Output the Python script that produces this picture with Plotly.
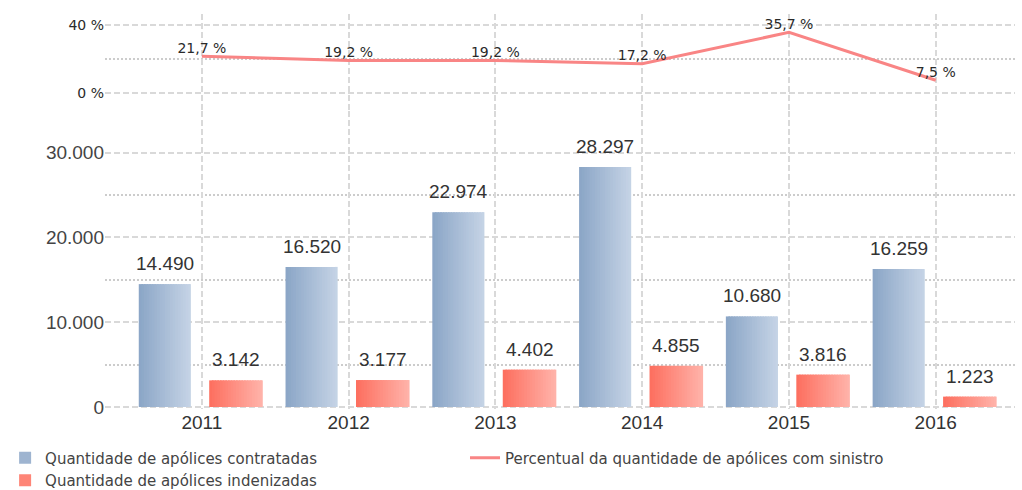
import plotly.graph_objects as go

years = ["2011", "2012", "2013", "2014", "2015", "2016"]
contratadas = [14490, 16520, 22974, 28297, 10680, 16259]
indenizadas = [3142, 3177, 4402, 4855, 3816, 1223]
percentual = [21.7, 19.2, 19.2, 17.2, 35.7, 7.5]
pct_ticks = [0, 40]
pct_tick_labels = ["0 %", "40 %"]
qty_ticks = [0, 10000, 20000, 30000]

name_c = "Quantidade de apólices contratadas"
name_i = "Quantidade de apólices indenizadas"
name_p = "Percentual da quantidade de apólices com sinistro"

GRID = "#d9d9d9"
MINOR = "#cccccc"
TXT = "#333333"
SANS = "Liberation Sans, Arial, sans-serif"
SMALL = "DejaVu Sans, Verdana, sans-serif"


def hex2rgb(h):
    h = h.lstrip("#")
    return tuple(int(h[i:i + 2], 16) for i in (0, 2, 4))


def mix(c0, c1, t):
    a, b = hex2rgb(c0), hex2rgb(c1)
    return "rgb(%d,%d,%d)" % tuple(round(a[k] + (b[k] - a[k]) * t) for k in range(3))


fig = go.Figure()

series = [
    (contratadas, name_c, "#8aa5c6", "#c6d4e6", -0.43, -0.075),
    (indenizadas, name_i, "#fd6e5e", "#ffb4ab", 0.05, 0.415),
]
N = 20
for vals, name, c0, c1, o0, o1 in series:
    w = (o1 - o0) / N
    for i in range(N):
        t = (i + 0.5) / N
        extra = 0.012 if i < N - 1 else 0.0
        fig.add_bar(
            x=years, y=vals, offset=o0 + i * w, width=w + extra,
            marker=dict(color=mix(c0, c1, t), line=dict(width=0)),
            name=name, legendgroup=name, showlegend=(i == N // 3),
            legend="legend", xaxis="x", yaxis="y",
            hoverinfo="skip" if i != N // 3 else None,
        )
    for k, (yr, v) in enumerate(zip(years, vals)):
        fig.add_annotation(
            x=k + (o0 + o1) / 2, y=v, xref="x", yref="y",
            text=f"{v:,}".replace(",", "."),
            showarrow=False, yanchor="bottom", yshift=8,
            font=dict(family=SANS, size=19, color=TXT),
        )

fig.add_scatter(
    x=years, y=percentual, mode="lines+text", name=name_p,
    line=dict(color="#f98585", width=3),
    text=[f"{p:.1f} %".replace(".", ",") for p in percentual],
    textposition="top center", textfont=dict(family=SMALL, size=14, color="#2a2a2a"),
    cliponaxis=False, xaxis="x", yaxis="y2", legend="legend2",
)

split = 0.7544
fig.update_layout(
    width=1022, height=490,
    margin=dict(l=105, r=7, t=14, b=81, autoexpand=False),
    paper_bgcolor="white", plot_bgcolor="white",
    barmode="overlay",
    separators=",.",
    showlegend=True,
    xaxis=dict(
        type="category", categoryorder="array", categoryarray=years,
        range=[-0.66, 5.54], anchor="y",
        showgrid=True, gridcolor=GRID, griddash="6px,3px", gridwidth=1.5,
        showline=False, zeroline=False, ticks="",
        tickfont=dict(family=SANS, size=19, color=TXT),
    ),
    yaxis=dict(
        domain=[0, split], range=[-236, 34900], anchor="x",
        tickvals=qty_ticks, tickformat=",",
        showgrid=True, gridcolor=GRID, griddash="6px,3px", gridwidth=1.5,
        minor=dict(tickvals=[5000, 15000, 25000], showgrid=True,
                   gridcolor=MINOR, griddash="1.5px,2.5px", gridwidth=1.5),
        zeroline=False, showline=False, ticks="",
        tickfont=dict(family=SANS, size=19, color="#444444"),
    ),
    yaxis2=dict(
        domain=[split, 1], range=[-10.6, 46.5], anchor="x",
        tickvals=pct_ticks, ticktext=pct_tick_labels,
        showgrid=True, gridcolor=GRID, griddash="6px,3px", gridwidth=1.5,
        minor=dict(tickvals=[20], showgrid=True,
                   gridcolor=MINOR, griddash="1.5px,2.5px", gridwidth=1.5),
        zeroline=False, showline=False, ticks="",
        tickfont=dict(family=SMALL, size=14, color="#2a2a2a"),
    ),
    legend=dict(
        xref="container", yref="container", x=0.005, y=0.099,
        xanchor="left", yanchor="top", orientation="v",
        font=dict(family=SMALL, size=15, color="#444444"),
        bgcolor="rgba(0,0,0,0)", tracegroupgap=0,
    ),
    legend2=dict(
        xref="container", yref="container", x=0.455, y=0.099,
        xanchor="left", yanchor="top", orientation="v",
        font=dict(family=SMALL, size=15, color="#444444"),
        bgcolor="rgba(0,0,0,0)",
    ),
)

fig.write_html("out.html", config={"displayModeBar": False},
               post_script="document.body.style.margin='0';")
